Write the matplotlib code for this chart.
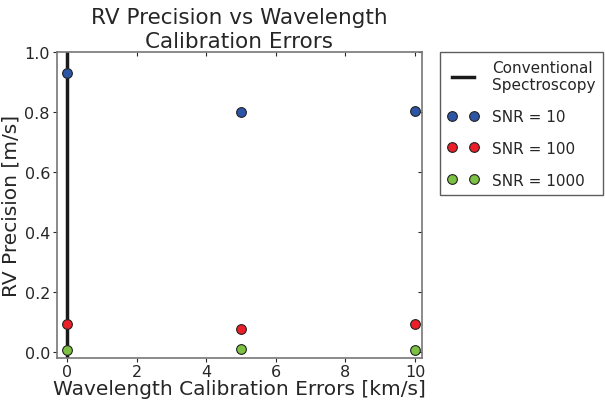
import matplotlib
matplotlib.use("Agg")
import matplotlib.pyplot as plt
from matplotlib import lines as mlines

x_errors = [0, 5, 10]
snr10 = [0.93, 0.80, 0.805]
snr100 = [0.092, 0.078, 0.092]
snr1000 = [0.006, 0.009, 0.006]
conventional_x = 0

text_color = "#262626"
plt.rcParams['font.family'] = ['DejaVu Sans']

fig = plt.figure(figsize=(6.05, 4.02), dpi=100)
ax = fig.add_axes([0.094, 0.107, 0.6035, 0.761])

ax.axvline(conventional_x, color="#1a1a1a", lw=2.5, label="Conventional\nSpectroscopy", zorder=2)
ax.plot(x_errors, snr10, 'o', color="#2d55a5", mec="#222222", mew=0.8, ms=7, label="SNR = 10", zorder=3)
ax.plot(x_errors, snr100, 'o', color="#ea1f27", mec="#222222", mew=0.8, ms=7, label="SNR = 100", zorder=3)
ax.plot(x_errors, snr1000, 'o', color="#7cc142", mec="#222222", mew=0.8, ms=7, label="SNR = 1000", zorder=3)

ax.set_xlim(-0.3, 10.2)
ax.set_ylim(-0.02, 1.0)
ax.set_xticks([0, 2, 4, 6, 8, 10])
ax.set_yticks([0.0, 0.2, 0.4, 0.6, 0.8, 1.0])
ax.tick_params(direction='out', length=3, labelsize=11.5, colors=text_color, pad=2,
               top=True, right=True)
ax.tick_params(axis='x', pad=1)
for t in ax.xaxis.get_major_ticks():
    t.tick1line.set_color("#555555")
    t.tick2line.set_marker(mlines.TICKDOWN)
    t.tick2line.set_color("#555555")
for t in ax.yaxis.get_major_ticks():
    t.tick1line.set_color("#555555")
    t.tick2line.set_marker(mlines.TICKLEFT)
    t.tick2line.set_color("#555555")
for s in ax.spines.values():
    s.set_color("#777777")
    s.set_linewidth(1.2)

ax.set_xlabel("Wavelength Calibration Errors [km/s]", fontsize=14.5, color=text_color, labelpad=0)
ax.set_ylabel("RV Precision [m/s]", fontsize=14.5, color=text_color, labelpad=3)
ax.set_title("RV Precision vs Wavelength\nCalibration Errors", fontsize=15.5, color=text_color, pad=4)

leg = ax.legend(loc='upper left', bbox_to_anchor=(1.05, 1.0), numpoints=2, fontsize=11,
                frameon=True, fancybox=False, borderaxespad=0, labelspacing=1.1,
                handlelength=2.0, handletextpad=0.9, borderpad=0.5)
leg.get_frame().set_edgecolor("#333333")
for t in leg.get_texts():
    t.set_color(text_color)

fig.savefig("out.png", dpi=100)
